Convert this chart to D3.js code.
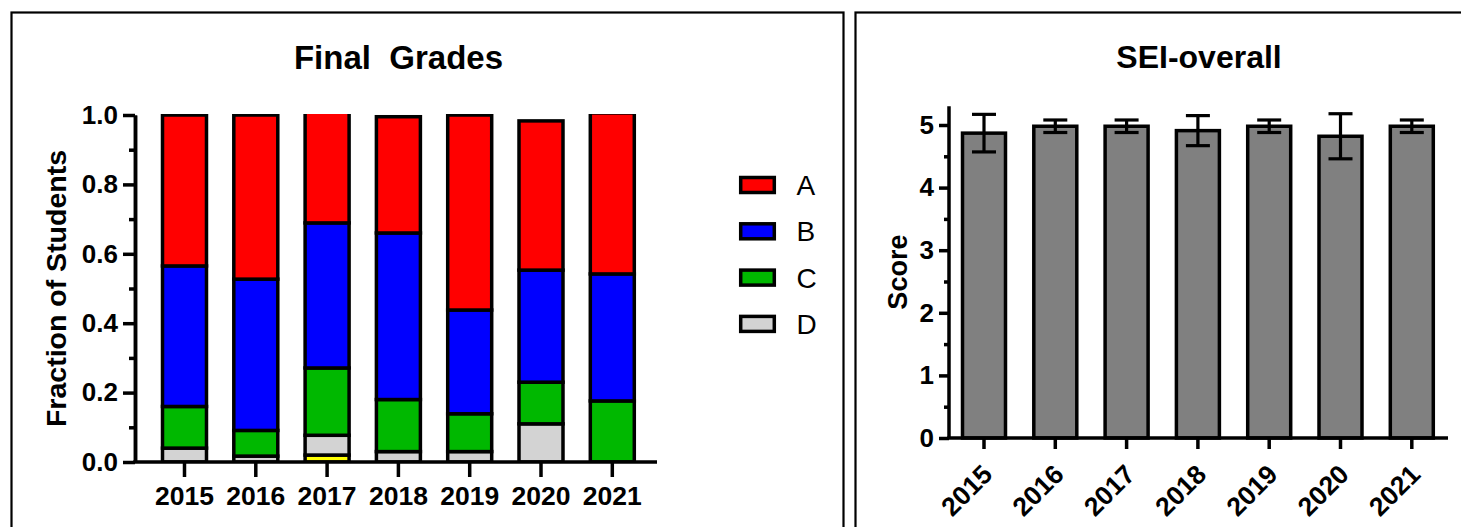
<!DOCTYPE html>
<html>
<head>
<meta charset="utf-8">
<script src="https://cdn.jsdelivr.net/npm/d3@7"></script>
<style>
  html, body { margin: 0; padding: 0; background: #fff; }
  svg { display: block; }
  text { font-family: Arial, "Liberation Sans", Helvetica, sans-serif; }
</style>
</head>
<body>
<svg id="chart" width="1461" height="527"></svg>
<script>
// ---------- DATA ----------
const years = ["2015", "2016", "2017", "2018", "2019", "2020", "2021"];
// stacked fractions, bottom to top
const gradeF = [0, 0, 0.02, 0, 0, 0, 0];
const gradeD = [0.04, 0.017, 0.057, 0.03, 0.03, 0.11, 0];
const gradeC = [0.12, 0.074, 0.194, 0.15, 0.109, 0.12, 0.176];
const gradeB = [0.405, 0.436, 0.418, 0.48, 0.299, 0.323, 0.366];
const gradeA = [0.435, 0.473, 0.32, 0.335, 0.562, 0.43, 0.464];
const leftTicks = [0, 0.2, 0.4, 0.6, 0.8, 1.0];
const leftMinorTicks = [0.1, 0.3, 0.5, 0.7, 0.9];
const legendKeys = ["A", "B", "C", "D"];

const seiMean = [4.87, 4.98, 4.98, 4.91, 4.98, 4.82, 4.98];
const seiSD = [0.3, 0.1, 0.1, 0.24, 0.1, 0.36, 0.1];
const rightTicks = [0, 1, 2, 3, 4, 5];
const rightMinorTicks = [0.5, 1.5, 2.5, 3.5, 4.5];

const colors = { A: "#ff0000", B: "#0000ff", C: "#00b800", D: "#d3d3d3", F: "#ffff00" };

// ---------- SETUP ----------
const svg = d3.select("#chart");
const SW = 3.5; // heavy stroke
const FONT = "Arial, 'Liberation Sans', sans-serif";

// panel frames
svg.append("rect").attr("x", 11.5).attr("y", 12.5).attr("width", 832).attr("height", 560)
  .attr("fill", "none").attr("stroke", "#000").attr("stroke-width", 2.2);
svg.append("rect").attr("x", 855.5).attr("y", 12.5).attr("width", 700).attr("height", 560)
  .attr("fill", "none").attr("stroke", "#000").attr("stroke-width", 2.2);

// ================= LEFT: Final Grades =================
const L = { axisX: 135, axisEnd: 657, y0: 462, y1: 115 };
const xL = d3.scaleBand().domain(years).range([162.5, 634.3]).paddingInner(0.383).paddingOuter(0);
const yL = d3.scaleLinear().domain([0, 1]).range([L.y0, L.y1]);

const rows = years.map((yr, i) => ({ year: yr, F: gradeF[i], D: gradeD[i], C: gradeC[i], B: gradeB[i], A: gradeA[i] }));
const keys = ["F", "D", "C", "B", "A"];
const stack = d3.stack().keys(keys)(rows);

svg.append("defs").append("clipPath").attr("id", "clipL")
  .append("rect").attr("x", 0).attr("y", yL(1) - 1).attr("width", 843).attr("height", L.y0 - yL(1) + 1);

const gBars = svg.append("g").attr("clip-path", "url(#clipL)");
stack.forEach(layer => {
  gBars.selectAll(null).data(layer.filter(d => d[1] - d[0] > 0)).enter().append("rect")
    .attr("x", d => xL(d.data.year))
    .attr("width", xL.bandwidth())
    .attr("y", d => yL(d[1]))
    .attr("height", d => yL(d[0]) - yL(d[1]))
    .attr("fill", colors[layer.key])
    .attr("stroke", "#000").attr("stroke-width", SW);
});

// y axis
const gyL = svg.append("g").attr("transform", `translate(${L.axisX},0)`);
gyL.call(d3.axisLeft(yL).tickValues(leftTicks).tickFormat(d3.format(".1f")).tickSize(12).tickSizeOuter(0).tickPadding(5));
gyL.append("g").call(d3.axisLeft(yL).tickValues(leftMinorTicks).tickFormat("").tickSize(6).tickSizeOuter(0));
gyL.selectAll(".domain").attr("stroke-width", SW);
gyL.selectAll(".tick line").attr("stroke-width", SW);
gyL.selectAll(".tick text").attr("font-size", 26).attr("font-weight", "bold").attr("fill", "#000")
  .attr("font-family", FONT);

// x axis
const gxL = svg.append("g");
gxL.append("line").attr("x1", L.axisX - SW / 2).attr("x2", L.axisEnd).attr("y1", L.y0).attr("y2", L.y0)
  .attr("stroke", "#000").attr("stroke-width", SW);
years.forEach(yr => {
  const cx = xL(yr) + xL.bandwidth() / 2;
  gxL.append("line").attr("x1", cx).attr("x2", cx).attr("y1", L.y0).attr("y2", L.y0 + 15)
    .attr("stroke", "#000").attr("stroke-width", SW);
  gxL.append("text").attr("x", cx).attr("y", 505).attr("text-anchor", "middle")
    .attr("font-size", 26.5).attr("font-weight", "bold").text(yr);
});

// titles
svg.append("text").attr("x", 398.5).attr("y", 69).attr("text-anchor", "middle")
  .attr("font-size", 33).attr("font-weight", "bold").style("white-space", "pre").text("Final  Grades");
svg.append("text").attr("transform", `translate(65.5,${(L.y0 + L.y1) / 2}) rotate(-90)`)
  .attr("text-anchor", "middle").attr("font-size", 28.5).attr("font-weight", "bold").text("Fraction of Students");

// legend
const gLeg = svg.append("g");
legendKeys.forEach((k, i) => {
  const cy = 185 + i * 46.3;
  gLeg.append("rect").attr("x", 740.7).attr("y", cy - 7.5).attr("width", 33.6).attr("height", 15)
    .attr("fill", colors[k]).attr("stroke", "#000").attr("stroke-width", SW);
  gLeg.append("text").attr("x", 796.5).attr("y", cy + 10).attr("font-size", 28).text(k);
});

// ================= RIGHT: SEI-overall =================
const R = { axisX: 949, axisEnd: 1448, y0: 438 };
const xR = d3.scaleBand().domain(years).range([962.5, 1433.3]).paddingInner(0.397).paddingOuter(0);
const yR = d3.scaleLinear().domain([0, 5]).range([R.y0, 125]);
const yRtop = 5.3;

svg.append("g").selectAll("rect").data(years).enter().append("rect")
  .attr("x", d => xR(d)).attr("width", xR.bandwidth())
  .attr("y", (d, i) => yR(seiMean[i])).attr("height", (d, i) => yR(0) - yR(seiMean[i]))
  .attr("fill", "#808080").attr("stroke", "#000").attr("stroke-width", SW);

// error bars
const gErr = svg.append("g").attr("stroke", "#000").attr("stroke-width", 3.2);
years.forEach((yr, i) => {
  const cx = xR(yr) + xR.bandwidth() / 2;
  const hi = yR(seiMean[i] + seiSD[i]), lo = yR(seiMean[i] - seiSD[i]);
  const cw = 12;
  gErr.append("line").attr("x1", cx).attr("x2", cx).attr("y1", hi).attr("y2", lo);
  gErr.append("line").attr("x1", cx - cw).attr("x2", cx + cw).attr("y1", hi).attr("y2", hi);
  gErr.append("line").attr("x1", cx - cw).attr("x2", cx + cw).attr("y1", lo).attr("y2", lo);
});

// y axis
const gyR = svg.append("g").attr("transform", `translate(${R.axisX},0)`);
gyR.append("line").attr("x1", 0).attr("x2", 0).attr("y1", yR(yRtop)).attr("y2", R.y0)
  .attr("stroke", "#000").attr("stroke-width", SW);
gyR.append("g").call(d3.axisLeft(yR).tickValues(rightTicks).tickFormat(d3.format("d")).tickSize(10).tickSizeOuter(0).tickPadding(5));
gyR.append("g").call(d3.axisLeft(yR).tickValues(rightMinorTicks).tickFormat("").tickSize(5).tickSizeOuter(0));
gyR.selectAll(".domain").remove();
gyR.selectAll(".tick line").attr("stroke-width", SW);
gyR.selectAll(".tick text").attr("font-size", 26).attr("font-weight", "bold").attr("fill", "#000")
  .attr("font-family", FONT);

// x axis
const gxR = svg.append("g");
gxR.append("line").attr("x1", R.axisX - SW / 2).attr("x2", R.axisEnd).attr("y1", R.y0).attr("y2", R.y0)
  .attr("stroke", "#000").attr("stroke-width", SW);
years.forEach(yr => {
  const cx = xR(yr) + xR.bandwidth() / 2;
  gxR.append("line").attr("x1", cx).attr("x2", cx).attr("y1", R.y0).attr("y2", R.y0 + 11)
    .attr("stroke", "#000").attr("stroke-width", SW);
  gxR.append("text").attr("transform", `translate(${cx + 10},${R.y0 + 38}) rotate(-45)`)
    .attr("text-anchor", "end").attr("font-size", 26.5).attr("font-weight", "bold").text(yr);
});

svg.append("text").attr("x", 1199).attr("y", 68).attr("text-anchor", "middle")
  .attr("font-size", 32).attr("font-weight", "bold").text("SEI-overall");
svg.append("text").attr("transform", `translate(907,${(R.y0 + yR(yRtop)) / 2}) rotate(-90)`)
  .attr("text-anchor", "middle").attr("font-size", 27).attr("font-weight", "bold").text("Score");
</script>
</body>
</html>
